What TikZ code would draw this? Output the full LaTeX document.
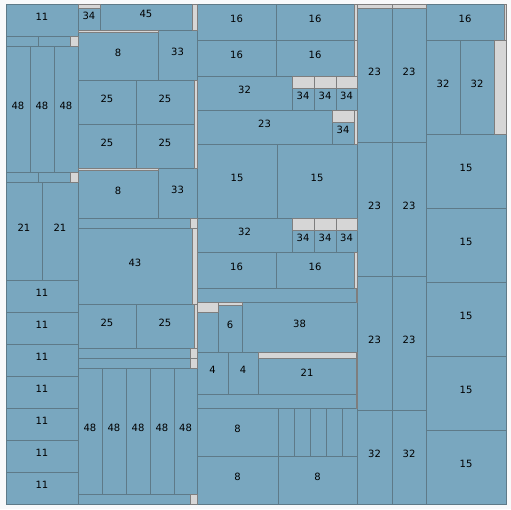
\documentclass[tikz,border=0pt]{standalone}
\usepackage{fontspec}
\setmainfont{DejaVu Sans}
\definecolor{cellblue}{HTML}{79A7BF}
\definecolor{celledge}{HTML}{5E7A88}
\definecolor{gapgrey}{HTML}{D6D6D6}
\definecolor{gapedge}{HTML}{7E7E7E}
\definecolor{paper}{HTML}{F8F9FA}
\tikzset{
  cell/.style={fill=cellblue, draw=celledge, line width=0.8pt},
  gapbar/.style={fill=gapgrey, draw=gapedge, line width=0.8pt},
  lbl/.style={anchor=base, inner sep=0pt, text=black, font=\fontsize{10}{12}\selectfont}
}
\begin{document}
\begin{tikzpicture}[x=1pt, y=-1pt]
  \fill[paper] (0,0) rectangle (511,509);
  \useasboundingbox (0,0) rectangle (511,509);
  % celdas azules: x1/y1/x2/y2/etiqueta
  \foreach \xa/\ya/\xb/\yb/\l [count=\i] in {
    % columna 1
    6/4/78/36/11, 6/36/38/46/{}, 38/36/70/46/{},
    6/46/30/172/48, 30/46/54/172/48, 54/46/78/172/48,
    6/172/38/182/{}, 38/172/70/182/{},
    6/182/42/280/21, 42/182/78/280/21,
    6/280/78/312/11, 6/312/78/344/11, 6/344/78/376/11, 6/376/78/408/11,
    6/408/78/440/11, 6/440/78/472/11, 6/472/78/504/11,
    % columna 2
    78/8/100/30/34, 100/4/192/30/45, 78/32/158/80/8, 158/30/197/80/33,
    78/80/136/124/25, 136/80/194/124/25, 78/124/136/168/25, 136/124/194/168/25,
    78/170/158/218/8, 158/168/197/218/33, 78/218/190/228/{},
    78/228/192/304/43, 78/304/136/348/25, 136/304/194/348/25,
    78/348/190/358/{}, 78/358/190/368/{},
    78/368/102/494/48, 102/368/126/494/48, 126/368/150/494/48,
    150/368/174/494/48, 174/368/197/494/48, 78/494/190/504/{},
    % columna 3
    197/4/276/40/16, 276/4/354/40/16, 197/40/276/76/16, 276/40/354/76/16,
    197/76/292/110/32, 292/88/314/110/34, 314/88/336/110/34, 336/88/357/110/34,
    197/110/332/144/23, 332/122/354/144/34,
    197/144/277/218/15, 277/144/357/218/15,
    197/218/292/252/32, 292/230/314/252/34, 314/230/336/252/34, 336/230/357/252/34,
    197/252/276/288/16, 276/252/354/288/16, 197/288/356/302/{},
    197/312/218/352/{}, 218/305/242/352/6, 242/302/357/352/38,
    197/352/228/394/4, 228/352/258/394/4, 258/358/356/394/21,
    197/394/356/408/{},
    197/408/278/456/8, 278/408/294/456/{}, 294/408/310/456/{},
    310/408/326/456/{}, 326/408/342/456/{}, 342/408/357/456/{},
    197/456/278/504/8, 278/456/357/504/8,
    % columna 4
    357/8/392/142/23, 392/8/426/142/23, 357/142/392/276/23, 392/142/426/276/23,
    357/276/392/410/23, 392/276/426/410/23, 357/410/392/504/32, 392/410/426/504/32,
    % columna 5
    426/4/504/40/16, 426/40/460/134/32, 460/40/494/134/32,
    426/134/506/208/15, 426/208/506/282/15, 426/282/506/356/15,
    426/356/506/430/15, 426/430/506/504/15}{
    \draw[cell] (\xa,\ya) rectangle (\xb,\yb);
    \node[lbl] (c\i) at ({(\xa+\xb)/2},{(\ya+\yb)/2}) {\l};
  }
  % huecos grises
  \foreach \xa/\ya/\xb/\yb in {
    70/36/78/46, 70/172/78/182,
    78/4/100/8, 192/4/197/30, 78/30/158/32, 194/80/197/168, 78/168/158/170,
    190/218/197/228, 192/228/197/304, 194/304/197/348,
    190/348/197/358, 190/358/197/368, 190/494/197/504,
    354/4/357/40, 354/40/357/76,
    292/76/314/88, 314/76/336/88, 336/76/357/88,
    332/110/354/122, 354/110/357/144,
    292/218/314/230, 314/218/336/230, 336/218/357/230,
    354/252/357/288, 356/288/357/302,
    197/302/218/312, 218/302/242/305,
    258/352/356/358, 356/352/357/408,
    357/4/392/8, 392/4/426/8,
    504/4/506/40, 494/40/506/134}{
    \draw[gapbar] (\xa,\ya) rectangle (\xb,\yb);
  }
\end{tikzpicture}
\end{document}
